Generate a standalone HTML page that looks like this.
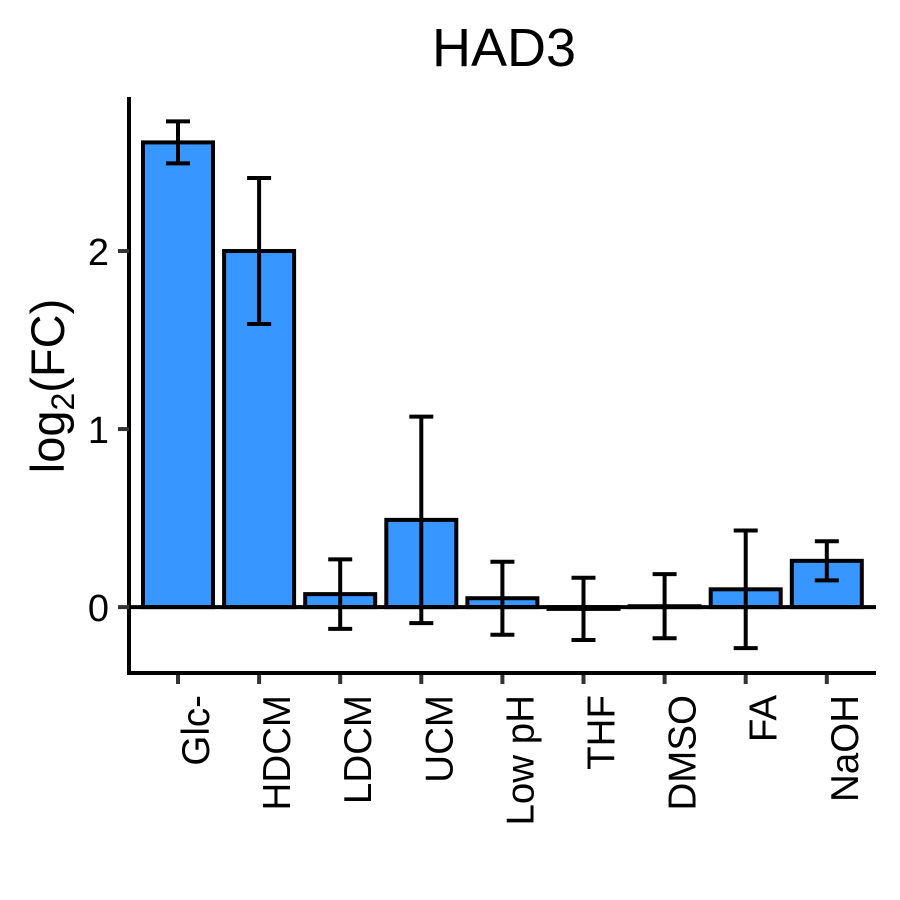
<!DOCTYPE html>
<html><head><meta charset="utf-8"><style>
body{margin:0;background:#fff}
svg{display:block;font-family:"Liberation Sans",Arial,sans-serif}
</style></head><body>
<svg id="chart" width="900" height="900" viewBox="0 0 900 900" xmlns="http://www.w3.org/2000/svg">
<text x="504" y="66" font-size="54" text-anchor="middle">HAD3</text>
<text transform="translate(64,386) rotate(-90)" font-size="47" text-anchor="middle">log<tspan font-size="32" dy="10">2</tspan><tspan dy="-10">(FC)</tspan></text>
<g id="bars"></g>
<g id="axes"></g>
</svg>
<script>
const categories = ["Glc-","HDCM","LDCM","UCM","Low pH","THF","DMSO","FA","NaOH"];
const values = [2.61, 2.0, 0.073, 0.49, 0.05, -0.01, 0.005, 0.10, 0.26];
const errors = [0.118, 0.41, 0.195, 0.58, 0.205, 0.175, 0.18, 0.33, 0.11];
const yTicks = [0, 1, 2];
const yTickLabels = ["0", "1", "2"];

const NS = "http://www.w3.org/2000/svg";
const gBars = document.getElementById("bars");
const gAxes = document.getElementById("axes");
const plotL = 129, plotR = 876, plotT = 97, plotB = 673;
const yMin = -0.37, yMax = 2.865;
function yScale(v){ return plotB - (v - yMin) / (yMax - yMin) * (plotB - plotT); }
const firstC = 178, step = 81.1, barW = 74;
function xScale(i){ return firstC + i * step; }
function mk(tag, attrs, parent){
  const e = document.createElementNS(NS, tag);
  for (const k in attrs) e.setAttribute(k, attrs[k]);
  parent.appendChild(e);
  return e;
}
const y0 = yScale(0);
categories.forEach((c, i) => {
  const cx = xScale(i);
  const yv = yScale(values[i]);
  const r = mk("rect", {x: cx - barW/2 + 2, y: Math.min(yv, y0), width: barW - 4, height: Math.max(Math.abs(y0 - yv), 0.5), fill: "#3796FF", stroke: "#000", "stroke-width": 4}, gBars);
  
  
  const yt = yScale(values[i] + errors[i]), yb = yScale(values[i] - errors[i]);
  const eb = mk("path", {d: `M${cx-12},${yt}H${cx+12}M${cx},${yt}V${yb}M${cx-12},${yb}H${cx+12}`, stroke: "#000", "stroke-width": 4, fill: "none"}, gBars);
  
  
  const tk = mk("line", {x1: cx, x2: cx, y1: plotB, y2: plotB + 11, stroke: "#333", "stroke-width": 4}, gAxes);
  
  
  const t = mk("text", {transform: `translate(${cx + 31},${plotB + 22}) rotate(-90)`, "font-size": 38.5, "text-anchor": "end", fill: "#000"}, gAxes);
  t.textContent = c;
  
  
});
const zl = mk("line", {x1: plotL, x2: plotR, y1: y0, y2: y0, stroke: "#000", "stroke-width": 4}, gAxes);


const ax = mk("path", {d: `M${plotL},${plotT}V${plotB}H${plotR}`, stroke: "#000", "stroke-width": 4, fill: "none"}, gAxes);


yTicks.forEach((v, i) => {
  const y = yScale(v);
  const tk = mk("line", {x1: plotL - 11, x2: plotL, y1: y, y2: y, stroke: "#333", "stroke-width": 4}, gAxes);
  
  
  const t = mk("text", {x: 109, y: y + 14, "font-size": 38, "text-anchor": "end", fill: "#000"}, gAxes);
  t.textContent = yTickLabels[i];
  
  
});
</script>
</body></html>
